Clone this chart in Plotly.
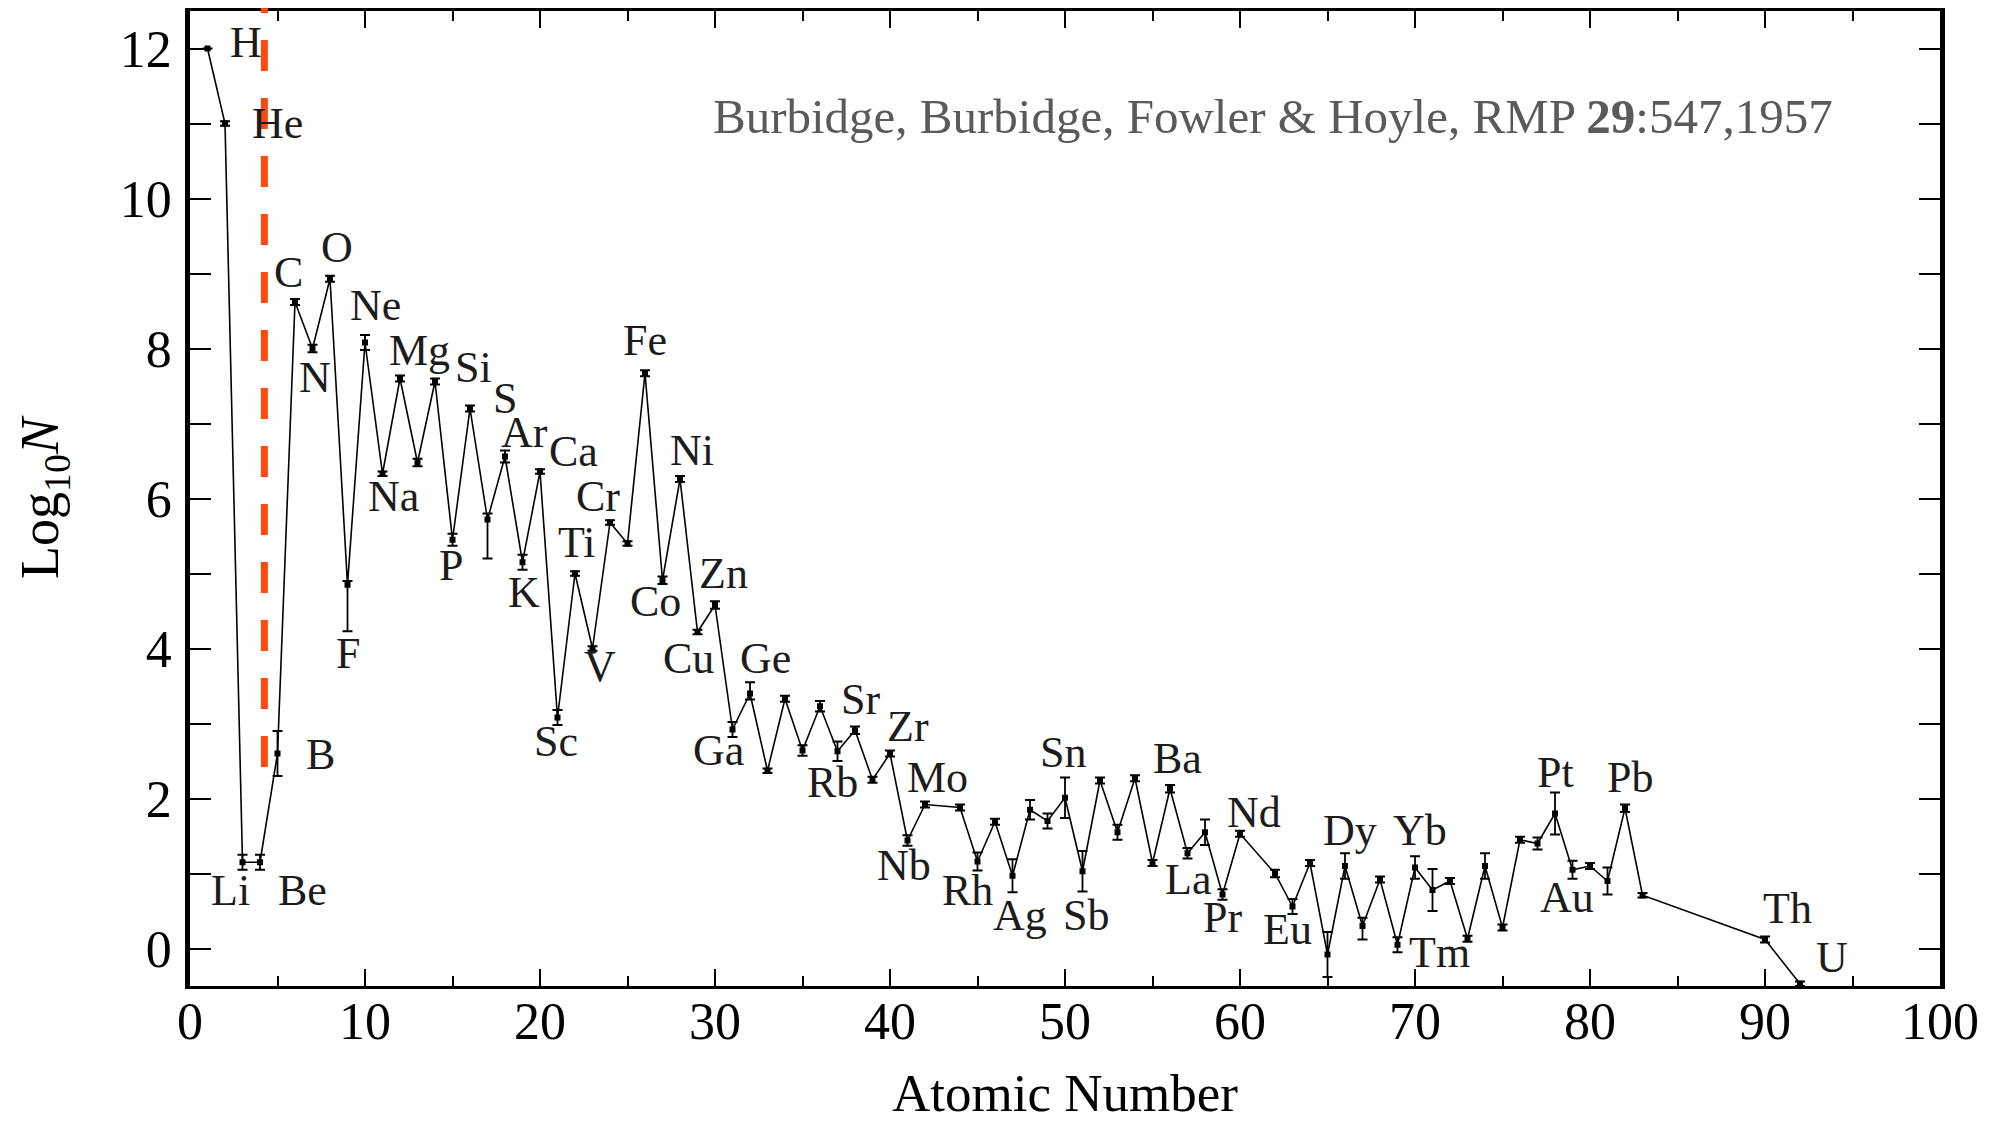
import plotly.graph_objects as go

# ---------------- data ----------------
atomic_number = [1, 2, 3, 4, 5, 6, 7, 8, 9, 10, 11, 12, 13, 14, 15, 16, 17, 18, 19, 20,
                 21, 22, 23, 24, 25, 26, 27, 28, 29, 30, 31, 32, 33, 34, 35, 36, 37, 38, 39, 40,
                 41, 42, 44, 45, 46, 47, 48, 49, 50, 51, 52, 53, 54, 55, 56, 57, 58, 59, 60,
                 62, 63, 64, 65, 66, 67, 68, 69, 70, 71, 72, 73, 74, 75, 76, 77, 78, 79, 80,
                 81, 82, 83, 90, 92]
log_n = [12.0, 11.0, 1.15, 1.15, 2.6, 8.62, 8.0, 8.93, 4.85, 8.08, 6.33, 7.6, 6.48, 7.56, 5.45, 7.2, 5.72, 6.56, 5.15, 6.36,
         3.08, 5.0, 4.0, 5.68, 5.4, 7.67, 4.91, 6.26, 4.22, 4.58, 2.92, 3.4, 2.37, 3.33, 2.64, 3.23, 2.63, 2.91, 2.25, 2.6,
         1.44, 1.92, 1.88, 1.16, 1.69, 0.97, 1.85, 1.7, 2.01, 1.03, 2.24, 1.55, 2.27, 1.14, 2.13, 1.27, 1.55, 0.72, 1.53,
         1.0, 0.56, 1.14, -0.08, 1.1, 0.3, 0.92, 0.05, 1.08, 0.78, 0.9, 0.13, 1.1, 0.28, 1.45, 1.4, 1.8, 1.05, 1.1,
         0.9, 1.87, 0.71, 0.12, -0.47]
err_plus = [0.0, 0.03, 0.1, 0.1, 0.3, 0.04, 0.05, 0.04, 0.05, 0.1, 0.03, 0.04, 0.05, 0.04, 0.08, 0.04, 0.08, 0.08, 0.1, 0.03,
            0.1, 0.03, 0.03, 0.03, 0.03, 0.04, 0.05, 0.04, 0.03, 0.05, 0.1, 0.15, 0.03, 0.04, 0.07, 0.07, 0.13, 0.05, 0.04, 0.04,
            0.07, 0.04, 0.04, 0.12, 0.04, 0.22, 0.13, 0.1, 0.27, 0.27, 0.04, 0.1, 0.04, 0.04, 0.05, 0.07, 0.17, 0.07, 0.04,
            0.05, 0.1, 0.04, 0.3, 0.17, 0.11, 0.04, 0.1, 0.15, 0.28, 0.04, 0.04, 0.17, 0.04, 0.04, 0.08, 0.28, 0.12, 0.04,
            0.18, 0.05, 0.03, 0.04, 0.03]
err_minus = [0.0, 0.03, 0.1, 0.1, 0.3, 0.04, 0.05, 0.04, 0.62, 0.1, 0.03, 0.04, 0.05, 0.04, 0.08, 0.04, 0.52, 0.08, 0.1, 0.03,
             0.1, 0.03, 0.03, 0.03, 0.03, 0.04, 0.05, 0.04, 0.03, 0.05, 0.1, 0.08, 0.03, 0.04, 0.07, 0.07, 0.13, 0.05, 0.04, 0.04,
             0.07, 0.04, 0.04, 0.12, 0.04, 0.22, 0.13, 0.1, 0.27, 0.27, 0.04, 0.1, 0.04, 0.04, 0.05, 0.07, 0.17, 0.07, 0.04,
             0.05, 0.1, 0.04, 0.3, 0.17, 0.18, 0.04, 0.1, 0.15, 0.28, 0.04, 0.04, 0.17, 0.04, 0.04, 0.08, 0.28, 0.12, 0.04,
             0.18, 0.05, 0.03, 0.04, 0.03]

# element labels and where their text sits (atomic number, log N)
label_text = ["H", "He", "Li", "Be", "B", "C", "O", "N", "Ne", "Mg", "Si", "S", "Ar", "Ca", "Na", "P", "K", "F",
              "Sc", "Ti", "Cr", "V", "Fe", "Ni", "Co", "Zn", "Cu", "Ge", "Ga", "Sr", "Zr", "Rb", "Mo", "Nb",
              "Rh", "Ag", "Sn", "Sb", "Ba", "La", "Nd", "Pr", "Eu", "Dy", "Yb", "Tm", "Pt", "Pb", "Au", "Th", "U"]
label_x = [3.2, 5.0, 2.3, 6.4, 7.45, 5.6, 8.4, 7.15, 10.6, 13.1, 16.2, 18.0, 19.1, 21.9, 11.6, 14.9, 19.1, 9.0,
           20.9, 22.1, 23.3, 23.4, 26.0, 28.7, 26.6, 30.5, 28.5, 32.9, 30.2, 38.3, 41.0, 36.7, 42.7, 40.8,
           44.4, 47.4, 49.9, 51.2, 56.4, 57.0, 60.8, 59.0, 62.7, 66.3, 70.3, 71.4, 78.0, 82.3, 78.7, 91.3, 93.8]
label_y = [12.08, 11.0, 0.77, 0.77, 2.59, 9.01, 9.35, 7.61, 8.57, 7.97, 7.75, 7.34, 6.88, 6.63, 6.03, 5.11, 4.75, 3.94,
           2.76, 5.42, 6.03, 3.76, 8.11, 6.64, 4.63, 5.0, 3.87, 3.87, 2.64, 3.32, 2.96, 2.21, 2.28, 1.11,
           0.77, 0.44, 2.62, 0.44, 2.54, 0.92, 1.81, 0.41, 0.26, 1.58, 1.57, -0.05, 2.35, 2.28, 0.68, 0.53, -0.12]

citation = "Burbidge, Burbidge, Fowler &amp; Hoyle, RMP <b>29</b>:547,1957"
citation_pos = (61.9, 11.1)

x_ticks = [0, 10, 20, 30, 40, 50, 60, 70, 80, 90, 100]
y_ticks = [0, 2, 4, 6, 8, 10, 12]
x_range = [0, 100]
y_range = [-0.5, 12.5]

# red dashed marker line (Z position, lower end in log N)
dash_x = 4.25
dash_y_low = 2.42

FONT = "Liberation Serif, Times New Roman, serif"

fig = go.Figure()
fig.add_trace(go.Scatter(
    x=atomic_number, y=log_n, mode="lines+markers",
    line=dict(color="black", width=1.6),
    marker=dict(symbol="square", size=6, color="black"),
    error_y=dict(type="data", symmetric=False, array=err_plus, arrayminus=err_minus,
                 color="black", thickness=1.8, width=5),
    showlegend=False, cliponaxis=False, hoverinfo="x+y",
))
# invisible companion trace so the label-only x axis is drawn
fig.add_trace(go.Scatter(
    x=atomic_number, y=log_n, mode="markers", xaxis="x2", yaxis="y",
    marker=dict(opacity=0), showlegend=False, hoverinfo="skip",
))

# dashed line: x in data, y in domain so it can rise above the frame like the original
y_dom_low = (dash_y_low - y_range[0]) / (y_range[1] - y_range[0])
fig.add_shape(type="line", xref="x", yref="y domain",
              x0=dash_x, x1=dash_x, y0=y_dom_low, y1=1.012,
              line=dict(color="#FF4A12", width=7, dash="31px,27px"), layer="above")

for t, lx, ly in zip(label_text, label_x, label_y):
    fig.add_annotation(x=lx, y=ly, xref="x", yref="y", text=t, showarrow=False,
                       font=dict(family=FONT, size=44, color="#1c1c1c"),
                       xanchor="center", yanchor="middle")

fig.add_annotation(x=citation_pos[0], y=citation_pos[1], xref="x", yref="y", text=citation,
                   showarrow=False, font=dict(family=FONT, size=49, color="#5a5a5a"),
                   xanchor="center", yanchor="middle")

axis_common = dict(
    showline=True, linecolor="black", mirror="allticks",
    ticks="inside", tickcolor="black", tickwidth=1.8,
    showgrid=False, zeroline=False, automargin=False,
    tickfont=dict(family=FONT, size=52, color="black"),
)

# frame + ticks (labels drawn by the companion axis just below)
fig.update_layout(xaxis=dict(range=x_range, tickvals=x_ticks, ticklen=17, linewidth=3,
                             minor=dict(dtick=5, tick0=0, ticklen=10, tickwidth=1.8, tickcolor="black", ticks="inside"),
                             showticklabels=False, **axis_common))
fig.update_layout(xaxis2=dict(
    overlaying="x", matches="x", range=x_range, anchor="free", position=0, side="bottom",
    showline=False, ticks="", tickvals=x_ticks, showgrid=False, zeroline=False, automargin=False,
    tickfont=dict(family=FONT, size=52, color="black"), ticklabelstandoff=0,
    title=dict(text="Atomic Number", font=dict(family=FONT, size=53, color="black"), standoff=24),
))
fig.update_layout(yaxis=dict(range=y_range, tickvals=y_ticks, ticklen=21, linewidth=4.5,
                             minor=dict(dtick=1, tick0=0, ticklen=12, tickwidth=1.8, tickcolor="black", ticks="inside"),
                             title=dict(text="Log<sub>10</sub><i>N</i>", font=dict(family=FONT, size=54, color="black"), standoff=45),
                             ticklabelstandoff=3, **axis_common))

# the page adds an 8px body margin, so the margins are offset by it
fig.update_layout(
    width=2004, height=1122,
    margin=dict(l=182, r=72, t=3, b=144),
    paper_bgcolor="white", plot_bgcolor="white",
    font=dict(family=FONT),
)

fig.write_html("out.html")
